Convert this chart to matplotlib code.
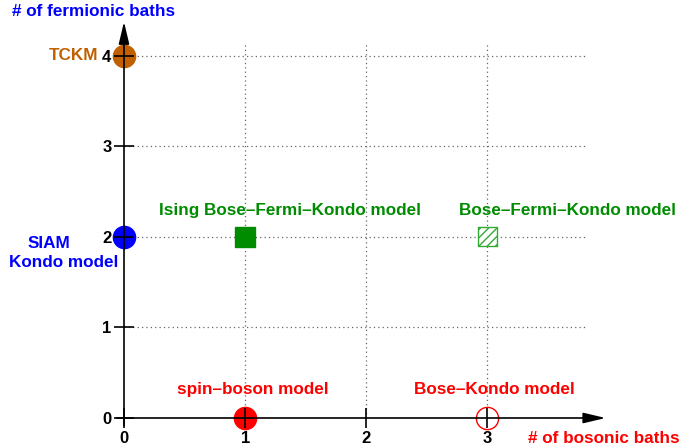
import matplotlib
matplotlib.use("Agg")
import matplotlib.pyplot as plt

plt.rcParams['font.family'] = ['Liberation Sans', 'DejaVu Sans']
plt.rcParams['font.weight'] = 'bold'

x_ticks = [0, 1, 2, 3]
y_ticks = [0, 1, 2, 3, 4]

# points: (bosonic baths, fermionic baths)
tckm = (0, 4)
siam = (0, 2)
ising_bfk = (1, 2)
bfk = (3, 2)
spin_boson = (1, 0)
bose_kondo = (3, 0)

BROWN = '#c06000'
BLUE = '#0000ff'
GREEN = '#008c00'
LGREEN = '#33aa33'
RED = '#ff0000'

fig = plt.figure(figsize=(6.82, 4.48), dpi=100)
ax = fig.add_axes([124/682, 30/448, 464/682, 375/448])
ax.set_xlim(0, 3.83)
ax.set_ylim(0, 4.14)
for s in ax.spines.values():
    s.set_visible(False)
ax.set_axisbelow(False)

# grid
for xv in x_ticks[1:]:
    ax.plot([xv, xv], [0, 4.14], ls=(0, (1, 2.5)), color='#666666', lw=0.9, zorder=0)
for yv in y_ticks[1:]:
    ax.plot([0, 3.83], [yv, yv], ls=(0, (1, 2.5)), color='#666666', lw=0.9, zorder=0)

# axes arrows
arrow = dict(arrowstyle='-|>,head_length=1.35,head_width=0.32', color='black', lw=1.2,
             shrinkA=0, shrinkB=0, mutation_scale=10)
ax.annotate('', xy=(3.975, 0), xytext=(-0.06, 0), annotation_clip=False,
            arrowprops=arrow, zorder=10)
ax.annotate('', xy=(0, 4.375), xytext=(0, -0.08), annotation_clip=False,
            arrowprops=arrow, zorder=10)

ax.set_xticks(x_ticks)
ax.set_yticks(y_ticks)
ax.tick_params(direction='inout', length=14, width=1.2, labelsize=12, pad=2)
for lab in ax.get_xticklabels() + ax.get_yticklabels():
    lab.set_fontweight('bold')

# markers
mz = 1.5
ax.plot(*tckm, 'o', ms=16, color=BROWN, zorder=mz, clip_on=False)
ax.plot(*siam, 'o', ms=16, color=BLUE, zorder=mz, clip_on=False)
ax.plot(*ising_bfk, 's', ms=14, color=GREEN, zorder=mz)
ax.scatter([bfk[0]], [bfk[1]], s=190, marker='s', facecolors='white', edgecolors=LGREEN,
           hatch='////', linewidths=1.0, zorder=mz)
ax.plot(*spin_boson, 'o', ms=16, color=RED, zorder=mz, clip_on=False)
ax.plot(*bose_kondo, 'o', ms=16, mfc='white', mec=RED, mew=1.0, zorder=mz, clip_on=False)

fs = 12.3
ax.text(1.37, 2.29, 'Ising Bose–Fermi–Kondo model', color=GREEN, fontsize=fs, fontweight='bold',
        ha='center', va='center')
ax.text(3.66, 2.29, 'Bose–Fermi–Kondo model', color=GREEN, fontsize=fs, fontweight='bold',
        ha='center', va='center')
ax.text(1.06, 0.32, 'spin–boson model', color=RED, fontsize=fs, fontweight='bold',
        ha='center', va='center')
ax.text(3.06, 0.32, 'Bose–Kondo model', color=RED, fontsize=fs, fontweight='bold',
        ha='center', va='center')
ax.text(-0.62, 1.93, 'SIAM', color=BLUE, fontsize=fs, fontweight='bold', ha='center', va='center')
ax.text(-0.50, 1.72, 'Kondo model', color=BLUE, fontsize=fs, fontweight='bold', ha='center', va='center')
ax.text(-0.215, 4.0, 'TCKM', color=BROWN, fontsize=fs, fontweight='bold', ha='right', va='center')

fig.text(12/682, 1 - 12/448, '# of fermionic baths', color=BLUE, fontsize=fs, fontweight='bold',
         ha='left', va='center')
fig.text(680/682, 1 - 438/448, '# of bosonic baths', color=RED, fontsize=fs, fontweight='bold',
         ha='right', va='center')

fig.savefig('out.png', dpi=100)
